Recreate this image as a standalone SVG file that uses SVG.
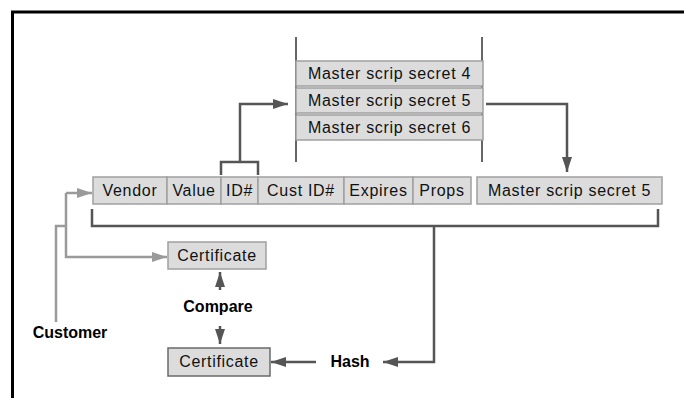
<svg xmlns="http://www.w3.org/2000/svg" width="684" height="398" viewBox="0 0 684 398">
<style>
.box{fill:#dcdcdc;stroke:#a0a0a0;stroke-width:1.5}
.box2{fill:#dcdcdc;stroke:#6a6a6a;stroke-width:1.5}
.t{font-family:"Liberation Sans",Arial,sans-serif;font-size:16px;letter-spacing:0.7px;text-anchor:middle;fill:#111}
.lbl{font-family:"Liberation Sans",Arial,sans-serif;font-size:16px;font-weight:bold;text-anchor:middle;fill:#000}
.dk{fill:none;stroke:#555;stroke-width:2.5}
.gr{fill:none;stroke:#9a9a9a;stroke-width:2.5}
.rail{fill:none;stroke:#666;stroke-width:2}
</style>
<defs>
<marker id="ad" markerUnits="userSpaceOnUse" markerWidth="15" markerHeight="10" refX="15" refY="5" orient="auto"><path d="M0,0 L15,5 L0,10 z" fill="#555"/></marker>
<marker id="ag" markerUnits="userSpaceOnUse" markerWidth="15" markerHeight="10" refX="15" refY="5" orient="auto"><path d="M0,0 L15,5 L0,10 z" fill="#9a9a9a"/></marker>
</defs>
<rect width="684" height="398" fill="#fff"/>
<path d="M12.5,398 V12 H684" fill="none" stroke="#000" stroke-width="3"/>

<g id="stack">
<line class="rail" x1="296" y1="37" x2="296" y2="162"/>
<line class="rail" x1="482" y1="37" x2="482" y2="162"/>
</g>
<g id="secret4"><rect class="box" x="296" y="61" width="187" height="25"/><text class="t" x="389.5" y="79">Master scrip secret 4</text></g>
<g id="secret5"><rect class="box" x="296" y="88" width="187" height="25"/><text class="t" x="389.5" y="106">Master scrip secret 5</text></g>
<g id="secret6"><rect class="box" x="296" y="115" width="187" height="25"/><text class="t" x="389.5" y="133">Master scrip secret 6</text></g>

<g id="vendor"><rect class="box" x="93" y="177" width="74" height="27"/><text class="t" x="130" y="196">Vendor</text></g>
<g id="value"><rect class="box" x="167" y="177" width="54" height="27"/><text class="t" x="194" y="196">Value</text></g>
<g id="id"><rect class="box" x="221" y="177" width="37" height="27"/><text class="t" x="239.5" y="196">ID#</text></g>
<g id="custid"><rect class="box" x="258" y="177" width="86" height="27"/><text class="t" x="301" y="196">Cust ID#</text></g>
<g id="expires"><rect class="box" x="344" y="177" width="69" height="27"/><text class="t" x="378.5" y="196">Expires</text></g>
<g id="props"><rect class="box" x="413" y="177" width="58" height="27"/><text class="t" x="442" y="196">Props</text></g>
<g id="secret5b"><rect class="box" x="477" y="177" width="185" height="27"/><text class="t" x="569.5" y="196">Master scrip secret 5</text></g>

<g id="cert1"><rect class="box" x="168" y="242" width="98" height="27"/><text class="t" x="217" y="261" fill="#333">Certificate</text></g>
<g id="cert2"><rect class="box2" x="168" y="348" width="102" height="28"/><text class="t" x="219" y="367">Certificate</text></g>

<g id="customer"><text class="lbl" x="70" y="337.5">Customer</text></g>
<g id="compare"><text class="lbl" x="218" y="311.5">Compare</text></g>
<g id="hash"><text class="lbl" x="350" y="367">Hash</text></g>

<g id="connectors">
<path class="dk" d="M221,175 V162 H258 V175"/>
<path class="dk" d="M240,162 V104 H288" marker-end="url(#ad)"/>
<path class="dk" d="M486,104 H567 V172" marker-end="url(#ad)"/>
<path class="dk" d="M92,209 V226 H658 V209"/>
<path class="dk" d="M434,226 V362 H383" marker-end="url(#ad)"/>
<path class="dk" d="M316,362 H271" marker-end="url(#ad)"/>
<path class="dk" d="M220,290 V272" marker-end="url(#ad)"/>
<path class="dk" d="M220,326 V344" marker-end="url(#ad)"/>
<path class="gr" d="M56,322 V226 H66"/>
<path class="gr" d="M66,193 V257 H167" marker-end="url(#ag)"/>
<path class="gr" d="M66,193 H92" marker-end="url(#ag)"/>
</g>
</svg>
